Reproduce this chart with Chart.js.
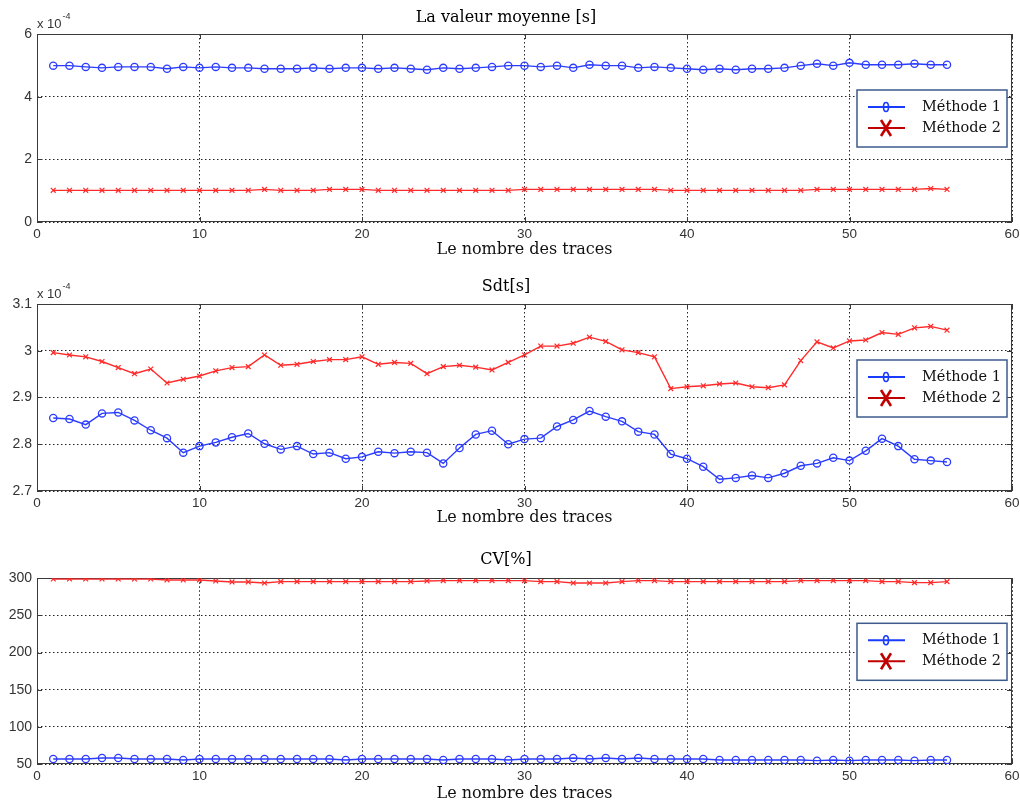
<!DOCTYPE html>
<html>
<head>
<meta charset="utf-8">
<script src="https://cdn.jsdelivr.net/npm/chart.js@4.4.0/dist/chart.umd.min.js"></script>
<style>
  html, body { margin: 0; padding: 0; background: #fff; }
  .panel { position: absolute; left: 0; width: 1020px; }
</style>
</head>
<body>
<div class="panel" style="top:0;height:268px"><canvas id="cMean" width="1020" height="268"></canvas></div>
<div class="panel" style="top:268px;height:268px"><canvas id="cSdt" width="1020" height="268"></canvas></div>
<div class="panel" style="top:536px;height:267px"><canvas id="cCv" width="1020" height="267"></canvas></div>
<script>
// numéros des traces (axe x)
const traces = [1,2,3,4,5,6,7,8,9,10,11,12,13,14,15,16,17,18,19,20,21,22,23,24,25,26,27,28,
  29,30,31,32,33,34,35,36,37,38,39,40,41,42,43,44,45,46,47,48,49,50,51,52,53,54,55,56];
const methodes = ['Méthode 1', 'Méthode 2'];

// valeur moyenne, en x 10^-4 s
const meanM1 = [4.99,4.99,4.95,4.92,4.95,4.95,4.95,4.89,4.95,4.92,4.95,4.92,4.92,4.89,4.89,4.89,
  4.92,4.89,4.92,4.92,4.89,4.92,4.89,4.86,4.92,4.89,4.92,4.95,4.99,4.99,4.95,4.99,4.92,5.02,4.99,
  4.99,4.92,4.95,4.92,4.89,4.86,4.89,4.86,4.89,4.89,4.92,4.99,5.05,4.99,5.08,5.02,5.02,5.02,5.05,5.02,5.02];
const meanM2 = [1.01,1.01,1.01,1.01,1.01,1.01,1.01,1.01,1.01,1.01,1.01,1.01,1.01,1.04,1.01,1.01,
  1.01,1.04,1.04,1.04,1.01,1.01,1.01,1.01,1.01,1.01,1.01,1.01,1.01,1.04,1.04,1.04,1.04,1.04,1.04,
  1.04,1.04,1.04,1.01,1.01,1.01,1.01,1.01,1.01,1.01,1.01,1.01,1.04,1.04,1.04,1.04,1.04,1.04,1.04,1.07,1.04];

// écart type, en x 10^-4 s
const sdtM1 = [2.856,2.854,2.842,2.866,2.868,2.851,2.830,2.813,2.782,2.796,2.804,2.815,2.823,2.801,
  2.789,2.796,2.779,2.782,2.769,2.773,2.784,2.781,2.784,2.782,2.759,2.792,2.821,2.829,2.800,2.811,
  2.813,2.838,2.852,2.871,2.859,2.849,2.827,2.821,2.779,2.769,2.752,2.725,2.728,2.733,2.728,2.738,
  2.754,2.759,2.771,2.765,2.786,2.812,2.796,2.768,2.765,2.762];
const sdtM2 = [2.996,2.991,2.987,2.977,2.964,2.951,2.961,2.931,2.939,2.946,2.957,2.964,2.966,2.991,
  2.969,2.971,2.977,2.981,2.981,2.987,2.971,2.975,2.973,2.951,2.966,2.969,2.965,2.959,2.975,2.991,
  3.010,3.010,3.016,3.029,3.020,3.002,2.996,2.987,2.919,2.923,2.925,2.929,2.931,2.923,2.921,2.927,
  2.979,3.019,3.006,3.021,3.023,3.039,3.035,3.049,3.052,3.044];

// coefficient de variation, en %
const cvM1 = [56.7,56.7,56.7,58.1,58.1,56.7,56.7,56.7,55.4,56.7,56.7,56.7,56.7,56.7,56.7,56.7,56.7,
  56.7,55.4,56.7,56.7,56.7,56.7,56.7,55.4,56.7,56.7,56.7,55.4,56.7,56.7,56.7,58.1,56.7,58.1,56.7,
  58.1,56.7,56.7,56.7,56.7,55.4,55.4,55.4,55.4,55.4,55.4,54.5,55.4,54.5,55.4,55.4,55.4,54.5,55.4,55.4];
const cvM2 = [299.1,299.1,299.1,299.1,299.1,299.1,299.1,297.8,297.8,297.8,296.4,295.1,295.1,293.7,
  295.5,295.5,295.5,295.5,295.5,295.5,295.5,295.5,295.5,296.4,296.9,296.9,296.9,296.9,296.9,296.9,
  295.5,295.5,293.7,293.7,293.7,295.5,296.9,296.9,295.5,295.5,295.5,295.5,295.5,295.5,295.5,295.5,
  296.9,296.9,296.9,296.9,296.9,295.5,295.5,294.2,294.2,295.5];

const BLUE = '#2b3cff';
const RED = '#ff2a2a';
const serif = '"DejaVu Serif", serif';
const sans = '"Liberation Sans", Arial, sans-serif';

// cadre + graduations intérieures + facteur x10^n
const frame = {
  id: 'frame',
  beforeDatasetsDraw(chart, args, opts) {
    const { ctx, chartArea: a, scales: { x, y } } = chart;
    ctx.save();
    ctx.strokeStyle = '#3a3a3a';
    ctx.lineWidth = 1;
    ctx.strokeRect(Math.round(a.left) + 0.5, Math.round(a.top) + 0.5,
      Math.round(a.width) - 1, Math.round(a.height) - 1);
    ctx.beginPath();
    x.ticks.forEach(t => {
      const px = Math.round(x.getPixelForValue(t.value)) + 0.5;
      ctx.moveTo(px, a.bottom); ctx.lineTo(px, a.bottom - 5);
      ctx.moveTo(px, a.top); ctx.lineTo(px, a.top + 5);
    });
    y.ticks.forEach(t => {
      const py = Math.round(y.getPixelForValue(t.value)) + 0.5;
      ctx.moveTo(a.left, py); ctx.lineTo(a.left + 5, py);
      ctx.moveTo(a.right, py); ctx.lineTo(a.right - 5, py);
    });
    ctx.stroke();
    if (opts.exponent) {
      ctx.fillStyle = '#333';
      ctx.textBaseline = 'alphabetic';
      ctx.font = '13px ' + sans;
      const base = 'x 10';
      ctx.fillText(base, a.left, a.top - 6);
      const w = ctx.measureText(base).width;
      ctx.font = '9px ' + sans;
      ctx.fillText(opts.exponent, a.left + w + 1, a.top - 15);
    }
    ctx.restore();
  }
};

// légende encadrée dans la zone du graphique
const boxLegend = {
  id: 'boxLegend',
  afterDraw(chart, args, opts) {
    const { ctx, chartArea: a } = chart;
    const x0 = a.right - 155, y0 = a.top + opts.offset, w = 150, h = 57;
    ctx.save();
    ctx.fillStyle = '#fff';
    ctx.fillRect(x0, y0, w, h);
    ctx.strokeStyle = '#3c5a8c';
    ctx.lineWidth = 1.5;
    ctx.strokeRect(x0, y0, w, h);
    chart.data.datasets.forEach((ds, i) => {
      const cy = y0 + 17 + i * 21;
      const col = i === 0 ? '#1a3cff' : '#c00000';
      const cx = x0 + 29;
      ctx.strokeStyle = col;
      ctx.lineWidth = 2;
      ctx.beginPath();
      ctx.moveTo(x0 + 11, cy); ctx.lineTo(x0 + 48, cy);
      ctx.stroke();
      ctx.beginPath();
      if (ds.pointStyle === 'circle') {
        ctx.lineWidth = 1.6;
        ctx.ellipse(cx, cy, 2.5, 4.5, 0, 0, Math.PI * 2);
      } else {
        ctx.lineWidth = 2.6;
        ctx.moveTo(cx - 5, cy - 8); ctx.lineTo(cx + 5, cy + 8);
        ctx.moveTo(cx + 5, cy - 8); ctx.lineTo(cx - 5, cy + 8);
      }
      ctx.stroke();
      ctx.fillStyle = '#111';
      ctx.font = '14.5px ' + serif;
      ctx.textBaseline = 'middle';
      ctx.fillText(ds.label, x0 + 65, cy);
    });
    ctx.restore();
  }
};

function makeChart(id, cfg) {
  const pts = vals => traces.map((t, i) => ({ x: t, y: vals[i] }));
  return new Chart(document.getElementById(id), {
    type: 'line',
    data: {
      datasets: [
        { label: methodes[0], data: pts(cfg.m1), borderColor: BLUE, borderWidth: 1.4,
          pointStyle: 'circle', pointRadius: 3.6, pointBorderColor: BLUE,
          pointBackgroundColor: 'rgba(0,0,0,0)', pointBorderWidth: 1.3 },
        { label: methodes[1], data: pts(cfg.m2), borderColor: RED, borderWidth: 1.4,
          pointStyle: 'crossRot', pointRadius: 3.4, pointBorderColor: RED, pointBorderWidth: 1.2 }
      ]
    },
    options: {
      responsive: false,
      animation: false,
      events: [],
      layout: { padding: { left: 0, right: 8, top: 0, bottom: 0 } },
      plugins: {
        legend: { display: false },
        tooltip: { enabled: false },
        title: { display: true, text: cfg.title, color: '#000',
          font: { family: serif, size: 16, weight: 'normal', lineHeight: 1.2 },
          padding: cfg.titlePad },
        frame: { exponent: cfg.exp },
        boxLegend: { offset: cfg.legendOffset }
      },
      scales: {
        x: {
          type: 'linear', min: 0, max: 60,
          ticks: { stepSize: 10, color: '#333', padding: 4, font: { family: sans, size: 13.5 } },
          grid: { color: '#222', lineWidth: 1, drawTicks: false },
          border: { display: false, dash: [1.5, 2.5] },
          title: { display: true, text: 'Le nombre des traces', color: '#111',
            font: { family: serif, size: 16, lineHeight: 1.2 }, padding: { top: 0, bottom: cfg.xTitlePad } },
          afterFit: s => { s.height = cfg.xH; s.paddingRight = 0; s.paddingLeft = 0; }
        },
        y: {
          min: cfg.yMin, max: cfg.yMax,
          ticks: { stepSize: cfg.yStep, color: '#333', padding: 5, font: { family: sans, size: 14 },
            callback: v => String(+v.toFixed(2)) },
          grid: { color: '#222', lineWidth: 1, drawTicks: false },
          border: { display: false, dash: [1.5, 2.5] },
          afterFit: s => { s.width = 37; }
        }
      }
    },
    plugins: [frame, boxLegend]
  });
}

makeChart('cMean', { title: 'La valeur moyenne [s]', m1: meanM1, m2: meanM2,
  yMin: 0, yMax: 6, yStep: 2, exp: '-4',
  titlePad: { top: 8, bottom: 6.8 }, xH: 46, xTitlePad: 8.4, legendOffset: 56 });
makeChart('cSdt', { title: 'Sdt[s]', m1: sdtM1, m2: sdtM2,
  yMin: 2.7, yMax: 3.1, yStep: 0.1, exp: '-4',
  titlePad: { top: 9.1, bottom: 7.7 }, xH: 45, xTitlePad: 8.4, legendOffset: 56 });
makeChart('cCv', { title: 'CV[%]', m1: cvM1, m2: cvM2,
  yMin: 50, yMax: 300, yStep: 50, exp: null,
  titlePad: { top: 14.4, bottom: 8.7 }, xH: 39, xTitlePad: 0, legendOffset: 45 });
</script>
</body>
</html>
